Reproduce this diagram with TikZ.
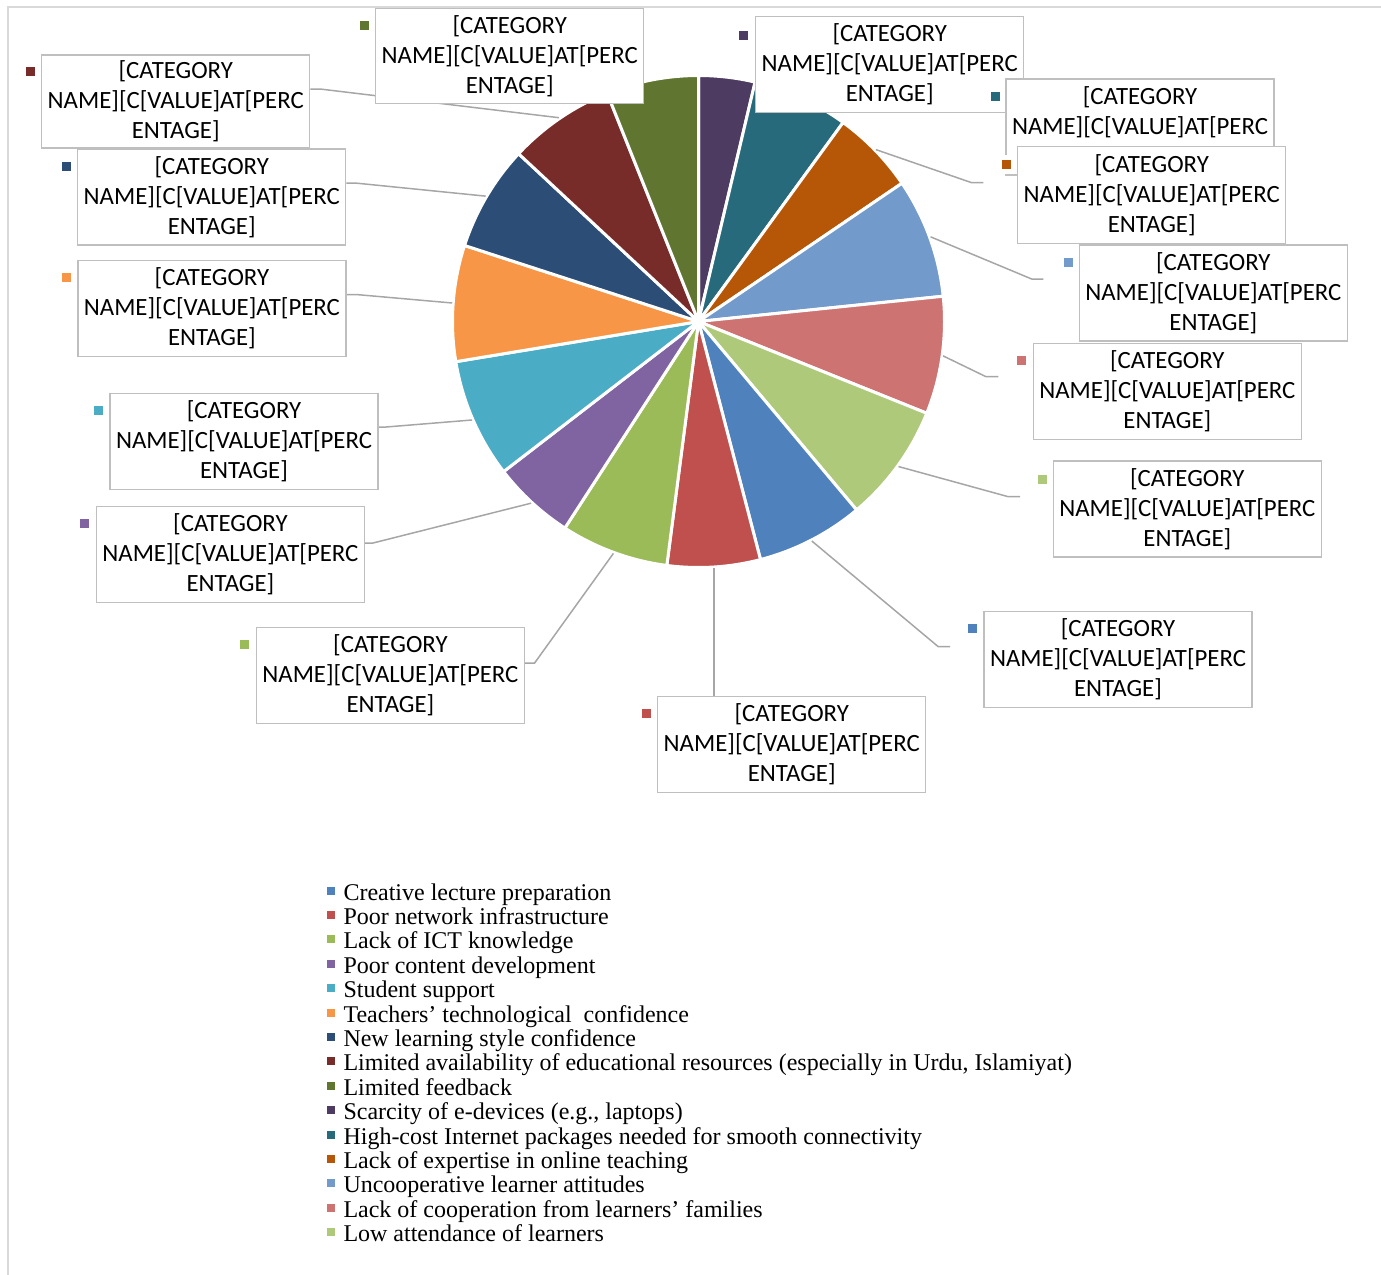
\documentclass[tikz,border=0pt]{standalone}
\usepackage{fontspec}
\setmainfont{Liberation Serif}
\newfontfamily\lblfont{Carlito}
\definecolor{cBlue}{HTML}{4F81BD}
\definecolor{cRed}{HTML}{C0504D}
\definecolor{cGreen}{HTML}{9BBB59}
\definecolor{cPurple}{HTML}{8064A2}
\definecolor{cAqua}{HTML}{4BACC6}
\definecolor{cOrange}{HTML}{F79646}
\definecolor{cDBlue}{HTML}{2C4D75}
\definecolor{cDRed}{HTML}{772C2A}
\definecolor{cDGreen}{HTML}{5F7530}
\definecolor{cDPurple}{HTML}{4D3B62}
\definecolor{cDAqua}{HTML}{276A7C}
\definecolor{cDOrange}{HTML}{B65708}
\definecolor{cLBlue}{HTML}{729ACA}
\definecolor{cLRed}{HTML}{CD7371}
\definecolor{cLGreen}{HTML}{AFC97A}
\definecolor{boxgray}{HTML}{BFBFBF}
\definecolor{leadgray}{HTML}{A6A6A6}
\definecolor{framegray}{HTML}{D9D9D9}
\pgfdeclarelayer{bg}
\pgfsetlayers{bg,main}
\newcommand\lbltxt{[CATEGORY\\NAME][C[VALUE]AT[PERC\\ENTAGE]}
\newcommand\lgrow[4]{%
  \node[lgmk=#2] (m#1) at (331,{-(#3-9.5)}) {};
  \node[lgtext] (t#1) at (343.3,-#3) {#4};}
\begin{document}
\begin{tikzpicture}[x=1bp,y=1bp,
  lbl/.style={draw=boxgray, line width=1.5bp, fill=white, minimum width=268bp,
    minimum height=96bp, inner sep=0pt, align=center,
    font=\lblfont\fontsize{24.8bp}{30bp}\selectfont},
  mk/.style={fill=#1, minimum size=9bp, inner sep=0pt,
    preaction={draw=white, line width=10bp}},
  lgmk/.style={fill=#1, minimum size=8bp, inner sep=0pt},
  leader/.style={draw=leadgray, line width=1.5bp},
  slice/.style={fill=#1, draw=white, line width=3bp, line join=round},
  lgtext/.style={anchor=base west, inner sep=0pt,
    font=\fontsize{24bp}{24.4bp}\selectfont}
]
\useasboundingbox (0,0) rectangle (1381,-1274);
% frame
\draw[framegray, line width=2bp] (1395,-7) -- (8,-7) -- (8,-1290);

% ---------- label boxes (series order) ----------
\node[lbl] (lBlue)    at (1118,-659.5)  {\lbltxt};
\node[mk=cBlue]    (k1)  at (972.5,-628.5) {};
\node[lbl] (lRed)     at (791.7,-744.7) {\lbltxt};
\node[mk=cRed]     (k2)  at (646.2,-713.7) {};
\node[lbl] (lGreen)   at (390.4,-675.3) {\lbltxt};
\node[mk=cGreen]   (k3)  at (244.9,-644.3) {};
\node[lbl] (lPurple)  at (230.4,-554.7) {\lbltxt};
\node[mk=cPurple]  (k4)  at (84.9,-523.7) {};
\node[lbl] (lAqua)    at (244,-441.3)   {\lbltxt};
\node[mk=cAqua]    (k5)  at (98.5,-410.3) {};
\node[lbl] (lOrange)  at (211.9,-308.7) {\lbltxt};
\node[mk=cOrange]  (k6)  at (66.4,-277.7) {};
\node[lbl] (lDBlue)   at (211.7,-197)   {\lbltxt};
\node[mk=cDBlue]   (k7)  at (66.2,-166) {};
\node[lbl, minimum height=93bp] (lDRed) at (175.7,-101.5) {\lbltxt};
\node[mk=cDRed]    (k8)  at (30.2,-71.5) {};
\node[lbl, minimum height=95bp] (lDGreen) at (509.7,-55.8) {\lbltxt};
\node[mk=cDGreen]  (k9)  at (364.2,-25.3) {};
\node[lbl] (lDPurple) at (889.7,-64.7)  {\lbltxt};
\node[mk=cDPurple] (k10) at (743,-35.3) {};
\node[lbl] (lDAqua)   at (1140,-127)    {\lbltxt};
\node[mk=cDAqua]   (k11) at (995.3,-96.3) {};
\node[lbl, minimum height=97bp] (lDOrange) at (1151.7,-194.8) {\lbltxt};
\node[mk=cDOrange] (k12) at (1006.5,-164.8) {};
\node[lbl] (lLBlue)   at (1213.3,-293)  {\lbltxt};
\node[mk=cLBlue]   (k13) at (1068.3,-262.5) {};
\node[lbl] (lLRed)    at (1167.3,-391.3) {\lbltxt};
\node[mk=cLRed]    (k14) at (1021.2,-360.5) {};
\node[lbl] (lLGreen)  at (1187.3,-509)  {\lbltxt};
\node[mk=cLGreen]  (k15) at (1042,-479) {};

% ---------- pie and leader lines (behind the boxes) ----------
\begin{pgfonlayer}{bg}
\coordinate (C) at (698.5,-321.5);
\foreach \a/\b/\c in {90/76.7/cDPurple, 76.7/54/cDAqua, 54/34.2/cDOrange,
    34.2/5.9/cLBlue, 5.9/-21.9/cLRed, -21.9/-50/cLGreen, -50/-75.4/cBlue,
    -75.4/-97.4/cRed, -97.4/-122.9/cGreen, -122.9/-142.4/cPurple,
    -142.4/-170.6/cAqua, -170.6/-198/cOrange, -198/-223/cDBlue,
    -223/-248.2/cDRed, -248.2/-270/cDGreen}
  \path[slice=\c] (C) -- ++(\a:246bp) arc[start angle=\a, end angle=\b, radius=246bp] -- cycle;

\path (C) ++(-62.7:247bp) coordinate (p1);
\path (C) ++(-86.4:247bp) coordinate (p2);
\path (C) ++(-110.15:247bp) coordinate (p3);
\path (C) ++(-132.65:247bp) coordinate (p4);
\path (C) ++(-156.5:247bp) coordinate (p5);
\path (C) ++(175.7:247bp) coordinate (p6);
\path (C) ++(149.5:247bp) coordinate (p7);
\path (C) ++(124.4:247bp) coordinate (p8);
\path (C) ++(44.1:247bp) coordinate (p12);
\path (C) ++(20.05:247bp) coordinate (p13);
\path (C) ++(-8:247bp) coordinate (p14);
\path (C) ++(-35.95:247bp) coordinate (p15);

\coordinate (b1) at (938.3,-646.7);  \coordinate (e1) at (950,-646.7);
\coordinate (b3) at (534.6,-663);
\coordinate (b4) at (373,-543);
\coordinate (b5) at (386,-427);
\coordinate (b6) at (356,-294.5);
\coordinate (b7) at (355,-183);
\coordinate (b8) at (320,-89);
\coordinate (b12) at (971.7,-182.7); \coordinate (e12) at (983.3,-182.7);
\coordinate (b13) at (1031.7,-279);  \coordinate (e13) at (1043.3,-279);
\coordinate (b14) at (986,-376.7);   \coordinate (e14) at (998.3,-376.7);
\coordinate (b15) at (1008.3,-496.7); \coordinate (e15) at (1020,-496.7);

\draw[leader] (p1) -- (b1) -- (e1);
\draw[leader] (p2) -- (p2 |- lRed.north);
\draw[leader] (p3) -- (b3) -- (b3 -| lGreen.east);
\draw[leader] (p4) -- (b4) -- (b4 -| lPurple.east);
\draw[leader] (p5) -- (b5) -- (b5 -| lAqua.east);
\draw[leader] (p6) -- (b6) -- (b6 -| lOrange.east);
\draw[leader] (p7) -- (b7) -- (b7 -| lDBlue.east);
\draw[leader] (p8) -- (b8) -- (b8 -| lDRed.east);
\draw[leader] (p12) -- (b12) -- (e12);
\draw[leader] (p13) -- (b13) -- (e13);
\draw[leader] (p14) -- (b14) -- (e14);
\draw[leader] (p15) -- (b15) -- (e15);
\end{pgfonlayer}

% ---------- legend ----------
\lgrow{1}{cBlue}{900}{Creative lecture preparation}
\lgrow{2}{cRed}{924.4}{Poor network infrastructure}
\lgrow{3}{cGreen}{948.8}{Lack of ICT knowledge}
\lgrow{4}{cPurple}{973.2}{Poor content development}
\lgrow{5}{cAqua}{997.6}{Student support}
\lgrow{6}{cOrange}{1022}{Teachers’ technological\ \ confidence}
\lgrow{7}{cDBlue}{1046.4}{New learning style confidence}
\lgrow{8}{cDRed}{1070.8}{Limited availability of educational resources (especially in Urdu, Islamiyat)}
\lgrow{9}{cDGreen}{1095.2}{Limited feedback}
\lgrow{10}{cDPurple}{1119.6}{Scarcity of e-devices (e.g., laptops)}
\lgrow{11}{cDAqua}{1144}{High-cost Internet packages needed for smooth connectivity}
\lgrow{12}{cDOrange}{1168.4}{Lack of expertise in online teaching}
\lgrow{13}{cLBlue}{1192.8}{Uncooperative learner attitudes}
\lgrow{14}{cLRed}{1217.2}{Lack of cooperation from learners’ families}
\lgrow{15}{cLGreen}{1241.6}{Low attendance of learners}
\end{tikzpicture}
\end{document}
